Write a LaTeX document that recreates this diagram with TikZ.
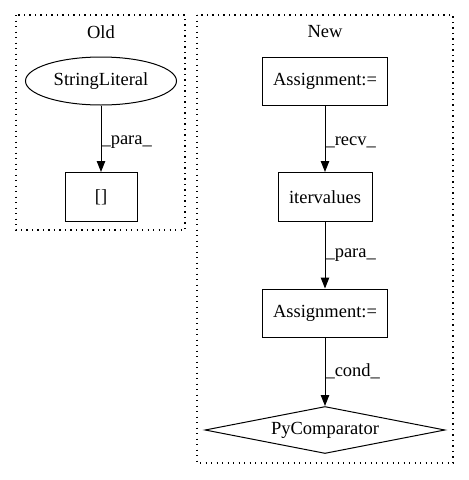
\documentclass[tikz,border=0pt]{standalone}
\usepackage{fontspec}
\setmainfont{Liberation Serif}
\usetikzlibrary{shapes.geometric,arrows.meta}
\begin{document}
\begin{tikzpicture}[x=1pt,y=-1pt,
		font=\fontsize{18.5}{21}\selectfont,
		box/.style={draw,line width=1pt,inner sep=0pt},
		cluster/.style={draw,line width=1.2pt,dash pattern=on 1.3pt off 4.2pt},
		edge/.style={-{Triangle[length=11pt,width=8.5pt]},line width=1pt},
		lab/.style={right,inner sep=0pt}]
			\useasboundingbox (0,0) rectangle (469,480);
			\draw[cluster] (16,15) rectangle (185,230);
			\draw[cluster] (197,15) rectangle (453,463);
			\node (old) at (101,32) {Old};
			\node (new) at (325,32) {New};
			\node[box,ellipse,minimum width=151,minimum height=48] (lit) at (101,81) {StringLiteral};
			\node[box,minimum width=72,minimum height=49] (idx) at (101,197) {[]};
			\node[box,minimum width=125,minimum height=48] (asgA) at (325,81) {Assignment:=};
			\node[box,minimum width=94,minimum height=49] (iter) at (325,197) {itervalues};
			\node[box,minimum width=125,minimum height=48] (asgB) at (325,313) {Assignment:=};
			\node[box,diamond,aspect=5,minimum width=240,minimum height=47] (cmp) at (325,430) {PyComparator};
			\draw[edge] (lit) -- node[lab,pos=0.55] {\_para\_} (idx);
			\draw[edge] (asgA) -- node[lab,pos=0.55] {\_recv\_} (iter);
			\draw[edge] (iter) -- node[lab,pos=0.5] {\_para\_} (asgB);
			\draw[edge] (asgB) -- node[lab,pos=0.5] {\_cond\_} (cmp);
		\end{tikzpicture}
\end{document}
